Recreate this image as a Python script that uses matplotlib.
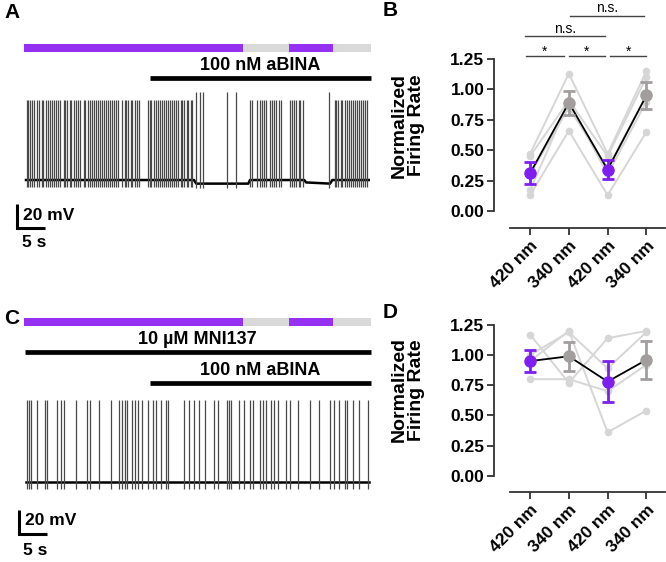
import numpy as np
import matplotlib.pyplot as plt

plt.rcParams["font.family"] = ["Liberation Sans", "DejaVu Sans"]

W, H = 666, 562

# stimulation protocol (s): 420 nm / 340 nm epochs
light_edges = [-0.3, 38.8, 47.0, 54.8, 61.6]
light_colors = ["#9630f2", "#d9d9d9", "#9630f2", "#d9d9d9"]
abina_start = 22.1
mni_start = -0.2
drug_end = 61.55

# panel A: spike times (s), isolated taller spikes, baseline (mV)
a_spikes = [
    0.1, 0.4, 0.8, 1.1, 1.5, 1.9,
    2.4, 2.8, 3.1, 3.5, 3.9, 4.2, 4.6, 5.0, 5.3, 5.7, 6.1,
    6.7, 7.0, 7.4, 7.8, 8.1, 8.5, 8.9, 9.2, 9.6,
    10.3, 10.6, 11.0, 11.4, 11.7, 12.1, 12.5, 12.8, 13.2, 13.6, 13.9, 14.3,
    14.7, 15.0, 15.4, 15.8, 16.1, 16.5,
    17.2, 17.6, 17.9, 18.3, 18.7, 19.0, 19.4, 19.8, 20.2,
    21.7, 22.1, 22.4, 22.8, 23.2, 23.5, 23.9, 24.3, 24.6, 25.0, 25.4, 25.7,
    26.1, 26.5, 26.8, 27.2, 27.6, 27.9, 28.3, 28.7, 29.0, 29.4, 29.7,
    40.0, 40.4, 41.3, 41.7, 42.1, 42.5, 42.9,
    43.5, 43.9, 44.3, 44.7, 45.1, 45.5,
    47.1, 47.5, 47.9, 48.3, 48.7, 49.0, 49.4,
    55.1, 55.4, 55.8, 56.2, 56.5, 56.9, 57.3, 57.6, 58.0, 58.4, 58.7,
    59.1, 59.5, 59.8, 60.2, 60.6, 60.9,
]
a_tall_spikes = [30.4, 31.1, 31.6, 35.9, 37.5, 54.1]
a_base_t = [0.0, 30.0, 30.4, 39.7, 40.0, 49.7, 50.0, 54.3, 54.7, 61.2]
a_base_v = [-55, -55, -58, -58, -55, -55, -57, -58, -55, -55]

# panel C: spike times (s), baseline (mV)
c_spikes = [
    0.23, 0.54, 0.84, 2.02, 3.39, 3.80, 5.48, 6.20, 6.73, 8.88, 10.95, 11.48,
    12.98, 15.13, 16.66, 17.09, 17.68, 18.09, 18.98, 19.46, 19.95, 20.66,
    21.73, 22.63, 23.21, 24.05, 24.95, 25.41, 28.16, 29.16, 30.05, 30.84,
    31.91, 33.63, 34.29, 35.95, 36.30, 36.61, 37.98, 38.98, 40.00, 40.59,
    41.79, 42.38, 42.80, 43.80, 44.29, 45.00, 46.43, 47.14, 48.52, 50.71,
    52.38, 54.34, 54.95, 55.95, 56.91, 57.38, 58.45, 59.46, 61.10,
]
c_base_t = [0.0, 61.2]
c_base_v = [-55, -55]

# panels B and D: normalized firing rate
wl_labels = ["420 nm", "340 nm", "420 nm", "340 nm"]
b_cells = [
    [0.47, 1.13, 0.47, 1.15],
    [0.13, 0.66, 0.13, 0.65],
    [0.45, 0.91, 0.45, 1.10],
    [0.30, 0.85, 0.35, 0.95],
    [0.17, 0.90, 0.30, 0.90],
]
b_mean = [0.31, 0.89, 0.34, 0.95]
b_sem = [0.09, 0.10, 0.08, 0.11]
d_cells = [
    [1.17, 0.77, 1.14, 1.20],
    [0.95, 1.20, 0.36, 0.54],
    [0.80, 0.80, 0.70, 0.92],
    [1.00, 1.19, 0.89, 1.19],
]
d_mean = [0.95, 0.99, 0.78, 0.96]
d_sem = [0.09, 0.12, 0.17, 0.16]

PURPLE = "#7f1fef"
GRAY = "#a29e9e"

fig = plt.figure(figsize=(6.66, 5.62), dpi=100)


def add_ax(l, t, r, b):
    return fig.add_axes([l / W, 1 - b / H, (r - l) / W, (b - t) / H])


def draw_trace(ax, spikes, tall, base_t, base_v, peak, tall_peak):
    ax.plot(base_t, base_v, color="k", lw=1.8)
    trough = np.interp(spikes, base_t, base_v) - 6
    ax.vlines(spikes, trough, peak, color="#484848", lw=0.9)
    if tall:
        trough = np.interp(tall, base_t, base_v) - 4
        ax.vlines(tall, trough, tall_peak, color="#484848", lw=0.9)


def draw_light(ax, y):
    segs = [(light_edges[i], light_edges[i + 1] - light_edges[i]) for i in range(4)]
    ax.broken_barh(segs, (y - 3.5, 7), facecolors=light_colors)


def draw_drug(ax, start, y_bar, y_txt, label):
    ax.hlines(y_bar, start, drug_end, color="k", lw=3.4)
    ax.text((start + drug_end) / 2, y_txt, label, ha="center", va="center",
            fontsize=13, fontweight="bold")


def draw_scale(ax, x0, y0, y_mv, y_s):
    ax.plot([x0, x0, x0 + 5], [y0 + 20, y0, y0], color="k", lw=2.2,
            solid_joinstyle="miter", solid_capstyle="butt")
    ax.text(x0 + 1.1, y_mv, "20 mV", ha="left", va="center", fontsize=12.5,
            fontweight="bold")
    ax.text(x0 + 3.0, y_s, "5 s", ha="center", va="center", fontsize=12.5,
            fontweight="bold")


# ---- A ----
axA = add_ax(0, 0, 380, 262)
axA.set_xlim(-26 / 5.6, 354 / 5.6)
axA.set_ylim(-123.3, 95)
draw_light(axA, 55.2)
draw_drug(axA, abina_start, 29.7, 40.5, "100 nM aBINA")
draw_trace(axA, a_spikes, a_tall_spikes, a_base_t, a_base_v, 12, 18)
draw_scale(axA, -1.6, -94.8, -84.2, -107)
axA.axis("off")

# ---- C ----
axC = add_ax(0, 300, 380, 562)
axC.set_xlim(-26 / 5.6, 354 / 5.6)
axC.set_ylim(-121.7, 96.7)
draw_light(axC, 78.6)
draw_drug(axC, mni_start, 53.3, 63.5, "10 µM MNI137")
draw_drug(axC, abina_start, 27.5, 38.3, "100 nM aBINA")
draw_trace(axC, c_spikes, [], c_base_t, c_base_v, 13, 13)
draw_scale(axC, -1.3, -98.3, -87.5, -112.5)
axC.axis("off")


def draw_summary(ax, cells, mean, sem):
    x = np.arange(len(wl_labels))
    for c in cells:
        ax.plot(x, c, color="#d6d6d6", lw=1.4, marker="o", ms=4.5,
                mec="#d6d6d6", mfc="#d6d6d6", zorder=1)
    ax.plot(x, mean, color="k", lw=1.3, zorder=2)
    for i in x:
        col = PURPLE if i % 2 == 0 else GRAY
        ax.errorbar(i, mean[i], yerr=sem[i], fmt="o", color=col, ms=8,
                    elinewidth=2, capsize=4.5, capthick=2, zorder=3)
    ax.set_xlim(-0.93, 3.48)
    ax.set_xticks(x)
    ax.set_xticklabels(wl_labels, rotation=45, ha="right",
                       rotation_mode="anchor", fontsize=12.5, fontweight="bold")
    ax.set_yticks([0, 0.25, 0.5, 0.75, 1.0, 1.25])
    ax.set_yticklabels(["0.00", "0.25", "0.50", "0.75", "1.00", "1.25"],
                       fontsize=12.5, fontweight="bold")
    for s in ["top", "right"]:
        ax.spines[s].set_visible(False)
    ax.spines["left"].set_bounds(0, 1.25)
    ax.spines["bottom"].set_bounds(-0.52, 3.48)
    for s in ["left", "bottom"]:
        ax.spines[s].set_linewidth(1.3)
        ax.spines[s].set_color("#333333")
    ax.tick_params(length=5, width=1.3, color="#333333", pad=2)
    ax.patch.set_alpha(0)


# ---- B ----
axB = add_ax(494, 0, 665, 228)
draw_summary(axB, b_cells, b_mean, b_sem)
axB.set_ylim(-0.14, 1.735)
for x0, x1 in [(-0.1, 0.87), (1.0, 1.93), (2.07, 3.0)]:
    axB.plot([x0, x1], [1.275, 1.275], color="#444444", lw=1)
    axB.text((x0 + x1) / 2, 1.31, "*", ha="center", va="center", fontsize=10)
axB.plot([-0.13, 1.94], [1.44, 1.44], color="#444444", lw=1)
axB.text(0.9, 1.5, "n.s.", ha="center", va="center", fontsize=10)
axB.plot([1.03, 2.94], [1.606, 1.606], color="#444444", lw=1)
axB.text(1.98, 1.67, "n.s.", ha="center", va="center", fontsize=10)

# ---- D ----
axD = add_ax(494, 305, 665, 492)
draw_summary(axD, d_cells, d_mean, d_sem)
axD.set_ylim(-0.135, 1.415)

for lab, y in [("Normalized\nFiring Rate", 125), ("Normalized\nFiring Rate", 390)]:
    fig.text(408 / W, 1 - y / H, lab, rotation=90, ha="center", va="center",
             fontsize=14, fontweight="bold", linespacing=1.0,
             multialignment="center")

for lab, x, y in [("A", 4, 12), ("B", 383, 11), ("C", 4, 318), ("D", 383, 313)]:
    fig.text(x / W, 1 - y / H, lab, fontsize=15, fontweight="bold",
             ha="left", va="center")

fig.savefig("out.png", dpi=100)
